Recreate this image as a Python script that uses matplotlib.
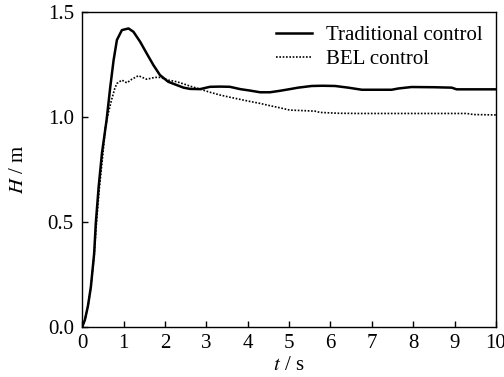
import matplotlib
matplotlib.use('Agg')
import matplotlib.pyplot as plt

plt.rcParams['font.family'] = ['Liberation Serif', 'DejaVu Serif']
plt.rcParams['mathtext.fontset'] = 'stix'
plt.rcParams['font.size'] = 15

# Control tradicional (linea continua)
t_trad = [0, 0.065, 0.14, 0.21, 0.29, 0.33, 0.40, 0.48, 0.59, 0.68, 0.76, 0.84,
          0.96, 1.12, 1.24, 1.40, 1.56, 1.72, 1.88, 2.08, 2.29, 2.45, 2.61, 2.85,
          3.09, 3.33, 3.57, 3.82, 4.06, 4.3, 4.54, 4.78, 5.02, 5.22, 5.55, 5.8,
          6.11, 6.43, 6.76, 7.1, 7.48, 7.64, 7.96, 8.5, 8.93, 9.05, 9.5, 10]
h_trad = [0, 0.033, 0.10, 0.19, 0.35, 0.495, 0.67, 0.83, 0.985, 1.144, 1.271, 1.367,
          1.414, 1.422, 1.406, 1.359, 1.303, 1.248, 1.20, 1.168, 1.152, 1.14, 1.134, 1.133,
          1.144, 1.145, 1.144, 1.133, 1.126, 1.118, 1.118, 1.125, 1.133, 1.14, 1.148, 1.149,
          1.148, 1.14, 1.13, 1.13, 1.13, 1.136, 1.143, 1.142, 1.14, 1.132, 1.132, 1.132]

# Control BEL (linea punteada)
t_bel = [0, 0.065, 0.14, 0.21, 0.29, 0.34, 0.41, 0.50, 0.56, 0.63, 0.71, 0.79,
         0.84, 0.96, 1.08, 1.2, 1.36, 1.56, 1.76, 1.88, 2.08, 2.29, 2.45, 2.61,
         2.85, 3.09, 3.33, 3.58, 3.82, 4.06, 4.3, 4.54, 4.78, 5.02, 5.3, 5.63,
         5.75, 6.2, 6.7, 7.5, 8.3, 9.3, 9.45, 10]
h_bel = [0, 0.033, 0.10, 0.19, 0.34, 0.48, 0.65, 0.82, 0.95, 1.017, 1.081, 1.137,
         1.16, 1.176, 1.163, 1.18, 1.197, 1.18, 1.189, 1.189, 1.176, 1.168, 1.158, 1.147,
         1.133, 1.118, 1.105, 1.094, 1.084, 1.074, 1.065, 1.054, 1.044, 1.033, 1.031, 1.028,
         1.022, 1.018, 1.017, 1.017, 1.017, 1.017, 1.012, 1.01]

fig = plt.figure(figsize=(5.04, 3.77), dpi=100)
ax = fig.add_axes([0.163, 0.1326, 0.821, 0.8354])

ax.plot(t_trad, h_trad, color='black', linewidth=1.8, label='Traditional control')
ax.plot(t_bel, h_bel, color='black', linewidth=1.2, linestyle=(0, (1, 1)), label='BEL control')

ax.set_xlim(0, 10)
ax.set_ylim(0, 1.5)
ax.set_xticks(range(0, 11))
ax.set_yticks([0, 0.5, 1.0, 1.5])
ax.set_yticklabels(['0.0', '0.5', '1.0', '1.5'])
ax.tick_params(direction='in', length=4, width=1, top=False, right=False)
ax.tick_params(axis='x', pad=5)
ax.tick_params(axis='y', pad=6)
for s in ax.spines.values():
    s.set_linewidth(1.0)

ax.set_xlabel(r'$t$ / s', labelpad=2)
ax.set_ylabel(r'$H$ / m', labelpad=14)

ax.legend(loc='upper right', frameon=False, handlelength=1.75, handletextpad=0.65,
          labelspacing=0.2, borderaxespad=0.25)

fig.savefig('out.png', dpi=100)
